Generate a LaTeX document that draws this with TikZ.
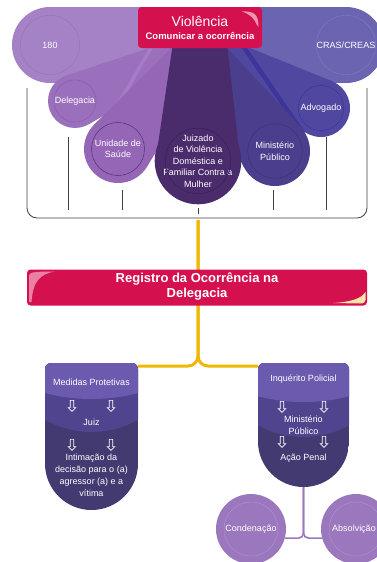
\documentclass[tikz,border=0pt]{standalone}
\usepackage{fontspec}
\setmainfont{Liberation Sans}
\usetikzlibrary{calc,shapes.arrows}

% cores
\definecolor{carmim}{HTML}{D4104F}
\definecolor{rosaclaro}{HTML}{EE94B2}
\definecolor{creme}{HTML}{F7E5A8}
\definecolor{ouro}{HTML}{F2B705}
\definecolor{roxoA}{HTML}{A482C5}
\definecolor{anelA}{HTML}{9677BB}
\definecolor{roxoB}{HTML}{9A70BD}
\definecolor{anelB}{HTML}{8A60AE}
\definecolor{roxoC}{HTML}{9466B5}
\definecolor{anelC}{HTML}{5E3486}
\definecolor{roxoD}{HTML}{4A2C6C}
\definecolor{anelD}{HTML}{3A2058}
\definecolor{azulA}{HTML}{6A64B1}
\definecolor{anelAzulA}{HTML}{7C76BC}
\definecolor{azulB}{HTML}{5048A0}
\definecolor{anelAzulB}{HTML}{40389A}
\definecolor{azulC}{HTML}{4B3F8D}
\definecolor{anelAzulC}{HTML}{3E3280}
\definecolor{faixaclara}{HTML}{A47DC6}
\definecolor{faixaescura}{HTML}{3D3597}
\definecolor{escudoA}{HTML}{6B5AAE}
\definecolor{escudoB}{HTML}{51448F}
\definecolor{escudoC}{HTML}{433A72}
\definecolor{lilas}{HTML}{9B77BE}
\definecolor{anelLilas}{HTML}{AA8CCB}

\tikzset{
  bolha/.style={circle, inner sep=0pt, text=white, align=center, font=\fontsize{9}{11.5}\selectfont},
  caixa/.style={rectangle, rounded corners=3.5pt, fill=carmim, inner sep=0pt},
  rotulo/.style={text=white, align=center, inner sep=0pt, font=\fontsize{9}{12}\selectfont},
  chave/.style={draw=black!75, line width=0.8pt},
  fioamarelo/.style={draw=ouro, line width=3pt},
  fiolilas/.style={draw=lilas, line width=1.6pt},
  seta/.style={single arrow, draw=white, fill=none, line width=0.7pt, inner sep=1.4pt,
    minimum height=11pt, single arrow head extend=2pt, shape border rotate=270},
}

% petala: x, y, raio, raio do vertice, cor, cor do anel, nome, texto
\newcommand{\petala}[8]{%
  \pgfmathsetmacro{\pdx}{#1-200}%
  \pgfmathsetmacro{\pdy}{#2-45}%
  \pgfmathsetmacro{\pd}{veclen(\pdx,\pdy)}%
  \pgfmathsetmacro{\pth}{atan2(\pdy,\pdx)}%
  \pgfmathsetmacro{\pal}{acos((#4-#3)/\pd)}%
  \fill[#5] ($(200,45)+(\pth+\pal:#4)$) -- ($(#1,#2)+(\pth+\pal:#3)$)
    -- ($(#1,#2)+(\pth-\pal:#3)$) -- ($(200,45)+(\pth-\pal:#4)$) -- cycle;
  \fill[#5] (200,45) circle[radius=#4pt];
  \node[bolha, fill=#5, minimum size={2*#3pt}] (#7) at (#1,#2) {#8};
  \draw[#6, line width=0.6pt] (#7.center) circle[radius={0.78*#3pt}];
}

% escudo: esquerda, direita, topo, base, fim da faixa do meio, fim da faixa de cima
\newcommand{\escudo}[6]{%
  \pgfmathsetmacro{\ecx}{(#1+#2)/2}%
  \pgfmathsetmacro{\eh}{(#2-#1)/2}%
  \pgfmathsetmacro{\eyc}{#4-\eh}%
  \pgfmathsetmacro{\ek}{0.5523*\eh}%
  \begin{scope}
    \clip (#1,\eyc) [rounded corners=6pt] -- (#1,#3) -- (#2,#3) [sharp corners] -- (#2,\eyc)
      .. controls (#2,\eyc+\ek) and (\ecx+\ek,#4) .. (\ecx,#4)
      .. controls (\ecx-\ek,#4) and (#1,\eyc+\ek) .. (#1,\eyc) -- cycle;
    \fill[escudoC] (#1,#3) rectangle (#2,#4);
    \fill[escudoB] (\ecx,#5-94) circle[radius=94pt];
    \fill[escudoA] (\ecx,#6-183) circle[radius=183pt];
  \end{scope}
}

\begin{document}
\begin{tikzpicture}[x=1pt, y=-1pt]
  \clip (0,0) rectangle (377,562);

  % leque de petalas
  \petala{50}{45}{38}{38}{roxoA}{anelA}{disque}{180}
  \petala{346}{45}{38}{38}{azulA}{anelAzulA}{cras}{CRAS/CREAS}
  \petala{75}{101}{27}{13}{roxoB}{anelB}{delegacia}{Delegacia}
  \petala{321}{108}{29}{16}{azulB}{anelAzulB}{advogado}{Advogado}
  \draw[faixaclara, line width=3.5pt] (152,46) -- (108,122);
  \draw[faixaescura, line width=4.5pt] (243,46) -- (303,133);
  \petala{118}{149}{34}{18}{roxoC}{anelC}{saude}{Unidade de\\Saúde}
  \petala{275}{151}{35}{18}{azulC}{anelAzulC}{ministerio}{Ministério\\Público}
  \petala{198}{161}{42}{27}{roxoD}{anelD}{juizado}{Juizado\\de Violência\\Doméstica e\\Familiar Contra a\\Mulher}

  % caixa do topo
  \node[caixa, minimum width=124pt, minimum height=41pt] (violencia) at (200,27.5) {};
  \fill[rosaclaro] (242,11.5) .. controls (254,11) and (258.5,14) .. (258.5,27)
    .. controls (256,26) and (256,16) .. (242,11.5) -- cycle;
  \node[text=white, inner sep=0pt, font=\fontsize{14}{16}\selectfont] (violenciaTit) at (200,21.5) {Violência};
  \node[text=white, inner sep=0pt, font=\bfseries\fontsize{9.5}{11}\selectfont] (violenciaSub) at (200,35.5) {Comunicar a ocorrência};

  % chave
  \coordinate (chaveL) at (27,88);
  \coordinate (chaveR) at (367,88);
  \coordinate (chaveB) at (198,218);
  \coordinate (fioTopo) at (198,220);
  \coordinate (medR) at (138,366);
  \coordinate (inqL) at (258,366);
  \draw[fioamarelo, rounded corners=10pt] (fioTopo) |- (medR);
  \draw[fioamarelo, rounded corners=10pt] (fioTopo) |- (inqL);
  \draw[chave, rounded corners=10pt] (chaveL) |- (chaveB) -| (chaveR);
  \foreach \x/\ya/\yb in {68/137/210, 122/190/210, 198/208/214, 273/190/210, 326/137/210}
    \draw[chave] (\x,\ya) -- (\x,\yb);

  % registro
  \node[caixa, minimum width=340pt, minimum height=36pt] (registro) at (197,287.5) {};
  \fill[rosaclaro!85!carmim] (29,302) -- (29,276) .. controls (29,272.5) and (32,271.5) .. (55,271.5)
    .. controls (40,274) and (33,281) .. (31.5,302) -- cycle;
  \fill[creme] (333,303) .. controls (350,302) and (361,299) .. (365.5,292)
    -- (365.5,300) .. controls (365.5,302.5) and (363.5,303.5) .. (360,303.5) -- cycle;
  \node[text=white, align=center, inner sep=0pt, font=\bfseries\fontsize{13}{15}\selectfont] (registroTxt) at (197,286.5)
    {Registro da Ocorrência na\\Delegacia};

  % medidas protetivas
  \escudo{45}{138}{363}{510}{432}{399}
  \node[rotulo] (medidas) at (91.5,382) {Medidas Protetivas};
  \node[seta] (s1) at (72,405) {};
  \node[seta] (s2) at (111,405) {};
  \node[rotulo] (juiz) at (91.5,422) {Juiz};
  \node[seta] (s3) at (72,444) {};
  \node[seta] (s4) at (111,444) {};
  \node[rotulo] (intimacao) at (91.5,475) {Intimação da\\decisão para o (a)\\agressor (a) e a\\vítima};

  % inquerito policial
  \escudo{258}{349}{363}{487}{437}{402}
  \node[rotulo] (inquerito) at (303.5,379) {Inquérito Policial};
  \node[seta] (s5) at (282,406) {};
  \node[seta] (s6) at (324,406) {};
  \node[rotulo] (ministerioB) at (303.5,425) {Ministério\\Público};
  \node[seta] (s7) at (282,441) {};
  \node[seta] (s8) at (324,441) {};
  \node[rotulo] (acao) at (303.5,458) {Ação Penal};
  \coordinate (inqB) at (303.5,487);

  % sentenca
  \node[bolha, fill=lilas, minimum size=70pt] (condenacao) at (251,529) {};
  \node[bolha, fill=lilas, minimum size=70pt] (absolvicao) at (356,529) {};
  \draw[fiolilas, rounded corners=5pt] (inqB) |- (condenacao.-15);
  \draw[fiolilas, rounded corners=5pt] (inqB) |- (absolvicao.195);
  \draw[anelLilas, line width=0.6pt] (condenacao.center) circle[radius=27pt];
  \draw[anelLilas, line width=0.6pt] (absolvicao.center) circle[radius=27pt];
  \node[bolha] (condenacaoTxt) at (condenacao.center) {Condenação};
  \node[bolha] (absolvicaoTxt) at (354,529) {Absolvição};
\end{tikzpicture}
\end{document}
